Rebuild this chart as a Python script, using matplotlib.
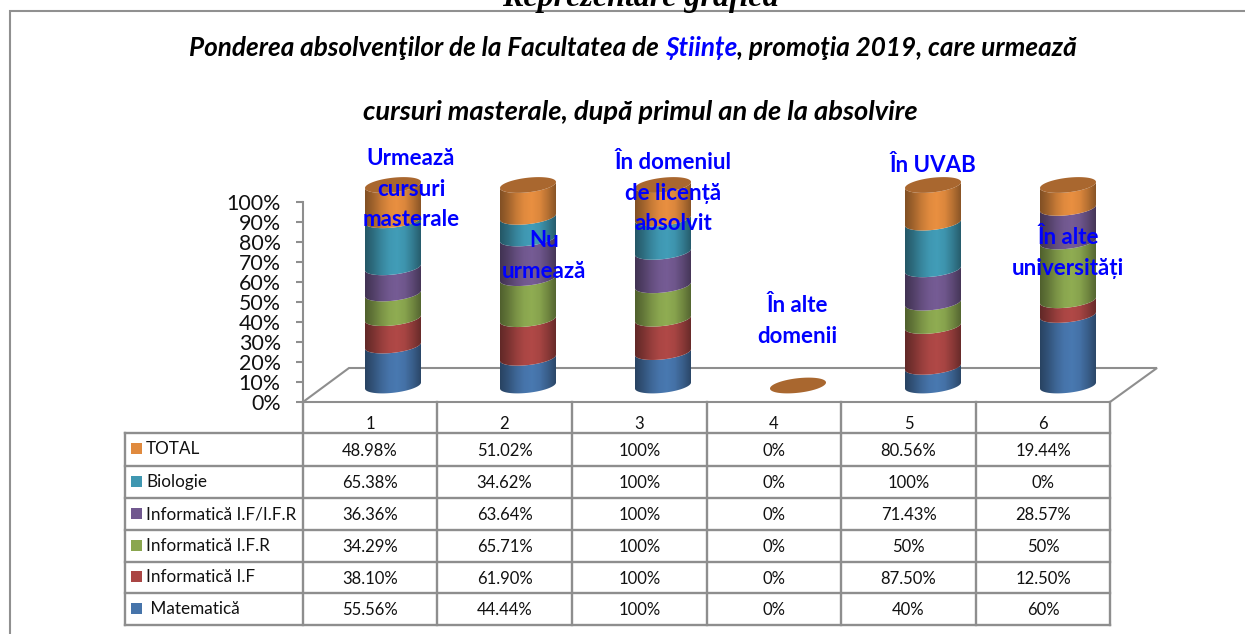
import numpy as np
import matplotlib
matplotlib.use("Agg")
import matplotlib.pyplot as plt
from matplotlib.patches import Polygon, Rectangle
from matplotlib.colors import LinearSegmentedColormap

W, H = 1245, 634

# table rows, top to bottom
series = ["TOTAL", "Biologie", "Informatică I.F/I.F.R", "Informatică I.F.R", "Informatică I.F", " Matematică"]
total = [48.98, 51.02, 100, 0, 80.56, 19.44]
biologie = [65.38, 34.62, 100, 0, 100, 0]
info_mixt = [36.36, 63.64, 100, 0, 71.43, 28.57]
info_ifr = [34.29, 65.71, 100, 0, 50, 50]
info_if = [38.10, 61.90, 100, 0, 87.50, 12.50]
matematica = [55.56, 44.44, 100, 0, 40, 60]
cell_text = [
    ["48.98%", "51.02%", "100%", "0%", "80.56%", "19.44%"],
    ["65.38%", "34.62%", "100%", "0%", "100%", "0%"],
    ["36.36%", "63.64%", "100%", "0%", "71.43%", "28.57%"],
    ["34.29%", "65.71%", "100%", "0%", "50%", "50%"],
    ["38.10%", "61.90%", "100%", "0%", "87.50%", "12.50%"],
    ["55.56%", "44.44%", "100%", "0%", "40%", "60%"],
]
categories = [1, 2, 3, 4, 5, 6]
colors = ["#e08a3e", "#3f97b1", "#71588f", "#8aa64f", "#aa4644", "#4674aa"]
y_ticks = [0, 10, 20, 30, 40, 50, 60, 70, 80, 90, 100]
col_notes = ["Urmează\ncursuri\nmasterale", "Nu\nurmează", "În domeniul\nde licență\nabsolvit",
             "În alte\ndomenii", "În UVAB", "În alte\nuniversități"]

GREY = "#8e8e8e"
FONT = "Lato"
TITLE_SIZE = 18.85


def px_axes(fig, z):
    a = fig.add_axes([0, 0, 1, 1], zorder=z)
    a.set_xlim(0, W)
    a.set_ylim(H, 0)
    a.axis("off")
    a.patch.set_alpha(0)
    return a


def rect_of(x0, x1, y_top, y_bot):
    return [x0 / W, 1 - y_bot / H, (x1 - x0) / W, (y_bot - y_top) / H]


fig = plt.figure(figsize=(W / 100, H / 100), dpi=100, facecolor="white")
back = px_axes(fig, 1)

# page frame
back.plot([10, 10, W], [H, 10.5, 10.5], color="#909090", lw=1.5, solid_joinstyle="miter")

# floor of the 3d chart
back.add_patch(Polygon([[303, 402], [349, 368], [1157, 368], [1110, 402]], closed=True, fill=False, ec=GREY, lw=1.5))

# table grid
col_x = [303, 437, 572, 707, 841, 976, 1110]
row_y = [433, 466, 498, 530, 562, 593, 625]
for x in col_x:
    back.plot([x, x], [402, 625], color=GREY, lw=1.7)
back.plot([124.5, 124.5], [433, 625], color=GREY, lw=1.7)
for y in row_y:
    back.plot([124.5, 1110], [y, y], color=GREY, lw=1.7)

for i, c in enumerate(categories):
    back.text((col_x[i] + col_x[i + 1]) / 2, 424, str(c), ha="center", va="center", fontsize=12, family=FONT, color="#111111")
for r, name in enumerate(series):
    yc = (row_y[r] + row_y[r + 1]) / 2
    back.add_patch(Rectangle((131, yc - 6.5), 11, 11, fc=colors[r], ec="none"))
    back.text(146, yc, name, ha="left", va="center", fontsize=12.3, family=FONT, color="#111111")
    for i in range(6):
        back.text((col_x[i] + col_x[i + 1]) / 2, yc + 1, cell_text[r][i], ha="center", va="center", fontsize=12, family=FONT, color="#111111")

# value axis
ax = fig.add_axes(rect_of(303, 1110, 202.5, 402), zorder=2)
ax.patch.set_alpha(0)
ax.set_xlim(0.5, 6.5)
ax.set_ylim(0, 100)
ax.set_yticks(y_ticks)
ax.set_yticklabels(["{}%".format(v) for v in y_ticks], fontsize=15.4, family=FONT, color="#111111")
ax.set_xticks([])
for s in ["top", "right", "bottom"]:
    ax.spines[s].set_visible(False)
ax.spines["left"].set_color(GREY)
ax.spines["left"].set_linewidth(1.5)
ax.tick_params(axis="y", length=5, width=1.5, color=GREY, pad=11)

# cylinders, 100% stacked: bottom series first
px_per_x = 135.0
px_per_y = 2.005
ax3 = fig.add_axes(rect_of(325.5, 1135.5, 164.95, 405.55), zorder=3)
ax3.axis("off")
ax3.patch.set_alpha(0)

half_w = 28 / px_per_x
ell_b = 7.3 / px_per_y
skew = 3.0 / px_per_y
t = np.linspace(0, np.pi, 60)


def front_arc(cx, y):
    # lower half of the tilted ellipse, left to right
    u = -np.cos(t)
    return cx + half_w * u, y - ell_b * np.sin(t) + skew * u


def cap(cx, y):
    tt = np.linspace(0, 2 * np.pi, 120)
    u = np.cos(tt)
    return np.column_stack([cx + half_w * u, y + ell_b * np.sin(tt) + skew * u])


rows_bottom_up = [matematica, info_if, info_ifr, info_mixt, biologie, total]
bottom_up_colors = colors[::-1]
stack = np.array(rows_bottom_up, dtype=float)
col_sum = stack.sum(axis=0)
shade = np.array([0.58, 0.72, 0.88, 1.0, 1.04, 0.98, 0.82, 0.62])

for i, cx in enumerate(categories):
    level = 0.0
    for s in range(6):
        val = 0.0 if col_sum[i] == 0 else stack[s, i] / col_sum[i] * 100
        if val > 0:
            x0, y0 = front_arc(cx, level)
            x1, y1 = front_arc(cx, level + val)
            poly = Polygon(np.vstack([np.column_stack([x0, y0]), np.column_stack([x1, y1])[::-1]]),
                           closed=True, fc="none", ec="none", transform=ax3.transData)
            ax3.add_patch(poly)
            rgb = np.array(matplotlib.colors.to_rgb(bottom_up_colors[s]))
            cmap = LinearSegmentedColormap.from_list("c", [tuple(np.clip(rgb * k, 0, 1)) for k in shade])
            im = ax3.imshow(np.linspace(0, 1, 64)[None, :], cmap=cmap, aspect="auto",
                            extent=[cx - half_w, cx + half_w, level - 10, level + val + 10], zorder=2)
            im.set_clip_path(poly)
        level += val
    top_col = "#a9672f"
    ax3.add_patch(Polygon(cap(cx, level), closed=True, fc=top_col, ec="none", zorder=3))

ax3.set_xlim(0.5, 6.5)
ax3.set_ylim(-10, 110)

# text on top
front = px_axes(fig, 4)
front.text(640, 6, "Reprezentare grafică", ha="center", va="baseline", fontsize=23, family="Liberation Serif",
           weight="bold", style="italic", color="black", clip_on=False)

note_x = [411, 544, 673, 797, 933, 1068]
note_y = [189, 256, 193, 321, 166, 253]
for i, note in enumerate(col_notes):
    front.text(note_x[i], note_y[i], note, ha="center", va="center", fontsize=16, family=FONT, weight="bold",
               color="#0000ff", linespacing=1.55, multialignment="center")

# title line with one blue word
title_parts = [("Ponderea absolvenţilor de la Facultatea de ", "black"), ("Științe", "#0000ff"),
               (", promoţia 2019, care urmează", "black")]
renderer = fig.canvas.get_renderer()
x = 189.0
for part, col in title_parts:
    front.text(x, 56, part, ha="left", va="baseline", fontsize=TITLE_SIZE, family=FONT, weight="bold",
               style="italic", color=col)
    tmp = front.text(x, 56, part.replace(" ", "\u00a0"), fontsize=TITLE_SIZE, family=FONT, weight="bold", style="italic")
    bb = tmp.get_window_extent(renderer)
    tmp.remove()
    x += bb.width
front.text(640, 120, "cursuri masterale, după primul an de la absolvire", ha="center", va="baseline", fontsize=19.6,
           family=FONT, weight="bold", style="italic", color="black")

fig.savefig("out.png", dpi=100)
